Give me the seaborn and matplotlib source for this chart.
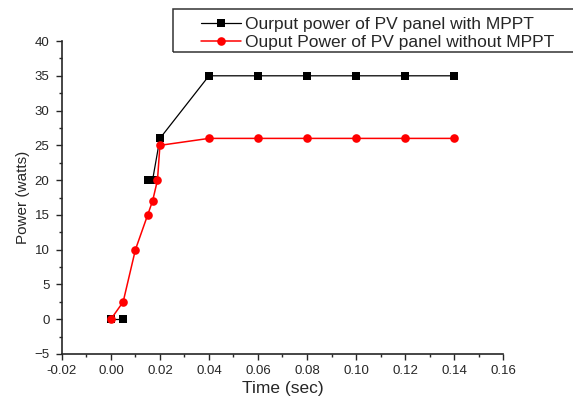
import matplotlib
matplotlib.use("Agg")
import matplotlib.pyplot as plt
import seaborn as sns
import pandas as pd
from matplotlib.ticker import MultipleLocator
from matplotlib.patches import Rectangle
from matplotlib.lines import Line2D

# data
# the MPPT curve shows a gap between 0.005 s and 0.015 s, so it is split in two segments
time_mppt = [0.0, 0.005, 0.015, 0.017, 0.02, 0.04, 0.06, 0.08, 0.10, 0.12, 0.14]
power_mppt = [0, 0, 20, 20, 26, 35, 35, 35, 35, 35, 35]
segment_mppt = [0, 0, 1, 1, 1, 1, 1, 1, 1, 1, 1]

time_nompt = [0.0, 0.005, 0.01, 0.015, 0.017, 0.019, 0.02, 0.04, 0.06, 0.08, 0.10, 0.12, 0.14]
power_nompt = [0, 2.5, 10, 15, 17, 20, 25, 26, 26, 26, 26, 26, 26]

label_mppt = "Ourput power of PV panel with MPPT"
label_nompt = "Ouput Power of PV panel without MPPT"

sns.set_style("ticks")
plt.rcParams['font.family'] = ['Liberation Sans', 'DejaVu Sans']

df1 = pd.DataFrame({"t": time_mppt, "p": power_mppt, "seg": segment_mppt})
df2 = pd.DataFrame({"t": time_nompt, "p": power_nompt})

fig = plt.figure(figsize=(5.73, 4.03), dpi=100)
ax = fig.add_axes([0.108, 0.1216, 0.770, 0.7766])

sns.lineplot(data=df1, x="t", y="p", units="seg", estimator=None, ax=ax, color="black",
             marker="s", markersize=5.6, markeredgewidth=0, linewidth=0.9, sort=False)
sns.lineplot(data=df2, x="t", y="p", ax=ax, color="red", marker="o", markersize=6.2,
             markeredgewidth=0, linewidth=1.1, sort=False)

ax.set_xlim(-0.02, 0.16)
ax.set_ylim(-5, 40)
ax.xaxis.set_major_locator(MultipleLocator(0.02))
ax.xaxis.set_minor_locator(MultipleLocator(0.01))
ax.yaxis.set_major_locator(MultipleLocator(5))
ax.yaxis.set_minor_locator(MultipleLocator(2.5))
ax.xaxis.set_major_formatter(plt.FuncFormatter(lambda v, p: f"{v:.2f}"))
ax.tick_params(which="major", length=4.5, width=1, labelsize=9.5, direction="out")
ax.tick_params(axis="x", pad=3.5)
ax.tick_params(axis="y", pad=4.5)
ax.tick_params(which="minor", length=2.5, width=1, direction="out")
for s in ["left", "bottom"]:
    ax.spines[s].set_linewidth(1.2)
sns.despine(ax=ax)

ax.set_xlabel("Time (sec)", fontsize=12.5, labelpad=3)
ax.set_ylabel("Power (watts)", fontsize=11, labelpad=3)

# legend: drawn without frame, box added separately (wide side padding as in reference)
handles = [Line2D([], [], color="black", marker="s", markersize=5.6, markeredgewidth=0, linewidth=0.9),
           Line2D([], [], color="red", marker="o", markersize=6.2, markeredgewidth=0, linewidth=1.1)]
leg = fig.legend(handles, [label_mppt, label_nompt], loc="upper left",
                 bbox_to_anchor=(201 / 573, 1 - 17 / 403), fontsize=12.5, frameon=False,
                 borderpad=0, labelspacing=0.15, handlelength=2.3, handletextpad=0.25,
                 borderaxespad=0)
fig.patches.append(Rectangle((173 / 573, 1 - 52 / 403), 420 / 573, 43 / 403,
                             transform=fig.transFigure, fill=False, edgecolor="#333333",
                             linewidth=1.1))

fig.savefig("out.png", dpi=100)
